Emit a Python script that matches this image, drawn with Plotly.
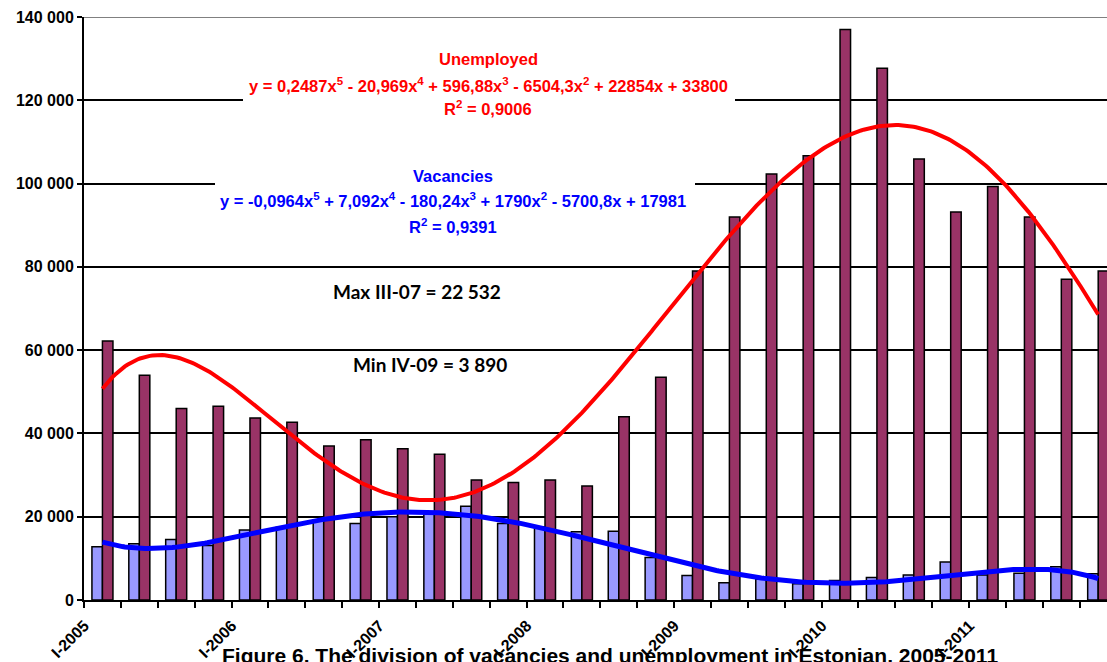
import numpy as np
import plotly.graph_objects as go

# Quarterly categories, 2005-2011
categories = [
    "I-2005", "II-2005", "III-2005", "IV-2005",
    "I-2006", "II-2006", "III-2006", "IV-2006",
    "I-2007", "II-2007", "III-2007", "IV-2007",
    "I-2008", "II-2008", "III-2008", "IV-2008",
    "I-2009", "II-2009", "III-2009", "IV-2009",
    "I-2010", "II-2010", "III-2010", "IV-2010",
    "I-2011", "II-2011", "III-2011", "IV-2011",
]

vacancies = [
    12800, 13500, 14500, 13100,
    16800, 17500, 19300, 18400,
    20000, 21100, 22532, 18400,
    17600, 16400, 16500, 10200,
    5900, 4160, 5000, 3890,
    4700, 5400, 6000, 9100,
    6000, 6400, 8000, 6300,
]

unemployed = [
    62200, 54000, 46000, 46500,
    43700, 42700, 37000, 38500,
    36300, 35000, 28800, 28200,
    28800, 27400, 44000, 53500,
    79000, 92000, 102300, 106700,
    137000, 127700, 105900, 93200,
    99300, 92000, 77000, 79000,
]

# 5th-order polynomial trendlines (x = quarter number 1..28)
unemployed_trend_coef = [0.2487, -20.969, 596.88, -6504.3, 22854, 33800]
vacancies_trend_coef = [-0.0964, 7.092, -180.24, 1790, -5700.8, 17981]

y_ticks = [0, 20000, 40000, 60000, 80000, 100000, 120000, 140000]

# --- geometry helpers (pixels -> axis/paper coordinates) ---
W, H = 1107, 662
L, R, T, B = 84, 0, 17, 62
plot_w = W - L - R
plot_h = H - T - B
y_max = 140000
cat_px = 36.88
x_range = [-0.5, -0.5 + plot_w / cat_px]


def px_to_paper_x(px):
    return (px - L) / plot_w


def py_to_paper_y(py):
    return (H - B - py) / plot_h


def py_to_val(py):
    return (H - B - py) * y_max / plot_h


def px_to_cat(px):
    return -0.5 + (px - L) / cat_px


FONT = "Liberation Sans, Arial, sans-serif"
RED = "#FF0000"
BLUE = "#0000FF"

fig = go.Figure()

fig.add_trace(go.Bar(
    x=categories, y=vacancies, name="Vacancies",
    marker=dict(color="#9999FF", line=dict(color="black", width=1.5)),
))
fig.add_trace(go.Bar(
    x=categories, y=unemployed, name="Unemployed",
    marker=dict(color="#993366", line=dict(color="black", width=1.5)),
))

n = len(categories)
t = np.linspace(1, n, 400)
fig.add_trace(go.Scatter(
    x=t - 1, y=np.polyval(unemployed_trend_coef, t), xaxis="x2",
    mode="lines", line=dict(color=RED, width=4), hoverinfo="skip",
))
fig.add_trace(go.Scatter(
    x=t - 1, y=np.polyval(vacancies_trend_coef, t), xaxis="x2",
    mode="lines", line=dict(color=BLUE, width=5), hoverinfo="skip",
))

# white boxes behind the trendline equations (above gridlines, below traces)
for (x0, x1, y0, y1) in [(243, 735, 45, 121), (215, 695, 163, 241)]:
    fig.add_shape(
        type="rect", xref="x", yref="y",
        x0=px_to_cat(x0), x1=px_to_cat(x1),
        y0=py_to_val(y1), y1=py_to_val(y0),
        fillcolor="white", line=dict(width=0), layer="between",
    )

# top border line of the plot area
fig.add_shape(
    type="line", xref="paper", yref="y", x0=0, x1=1, y0=y_max, y1=y_max,
    line=dict(color="#808080", width=2), layer="above",
)


def note(text, px, py, size, color, family=FONT):
    fig.add_annotation(
        text=text, xref="paper", yref="paper",
        x=px_to_paper_x(px), y=py_to_paper_y(py),
        xanchor="center", yanchor="middle", showarrow=False,
        font=dict(family=family, size=size, color=color, weight="bold"),
    )


note("Unemployed", 488, 59, 16.5, RED)
note("y = 0,2487x<sup>5</sup> - 20,969x<sup>4</sup> + 596,88x<sup>3</sup> - 6504,3x<sup>2</sup> + 22854x + 33800",
     488, 85, 16.5, RED)
note("R<sup>2</sup> = 0,9006", 488, 108, 16.5, RED)

note("Vacancies", 453, 176, 16.5, BLUE)
note("y = -0,0964x<sup>5</sup> + 7,092x<sup>4</sup> - 180,24x<sup>3</sup> + 1790x<sup>2</sup> - 5700,8x + 17981",
     453, 200, 16.5, BLUE)
note("R<sup>2</sup> = 0,9391", 453, 226, 16.5, BLUE)

note("Max III-07 = 22 532", 417, 291, 19, "black", family="Lato, sans-serif")
note("Min IV-09 = 3 890", 430, 364, 19, "black", family="Lato, sans-serif")

note("Figure 6. The division of vacancies and unemployment in Estonian, 2005-2011",
     610, 656, 21, "black")

fig.update_layout(
    width=W, height=H,
    margin=dict(l=L, r=R, t=T, b=B, pad=0, autoexpand=False),
    paper_bgcolor="white", plot_bgcolor="white",
    separators=", ",
    showlegend=False,
    barmode="group", bargap=0.43, bargroupgap=0,
    xaxis=dict(
        type="category", categoryorder="array", categoryarray=categories,
        range=x_range, tickson="boundaries", automargin=False,
        tickmode="linear", tick0=0, dtick=1, ticklabelstep=4,
        tickangle=-45, ticks="outside", ticklen=6, tickwidth=2, tickcolor="black",
        ticklabelstandoff=8, ticklabelshift=-18,
        showline=True, linecolor="black", linewidth=2, showgrid=False,
        tickfont=dict(family=FONT, size=16, color="black", weight="bold"),
    ),
    xaxis2=dict(
        overlaying="x", type="linear", range=x_range, visible=False,
    ),
    yaxis=dict(
        range=[0, y_max], tickvals=y_ticks, tickformat=",d", automargin=False,
        showgrid=True, gridcolor="black", gridwidth=2,
        showline=True, linecolor="black", linewidth=2, zeroline=False,
        ticks="outside", ticklen=5, tickwidth=2, tickcolor="black",
        tickfont=dict(family=FONT, size=16, color="black", weight="bold"),
    ),
)

fig.write_html("out.html")
